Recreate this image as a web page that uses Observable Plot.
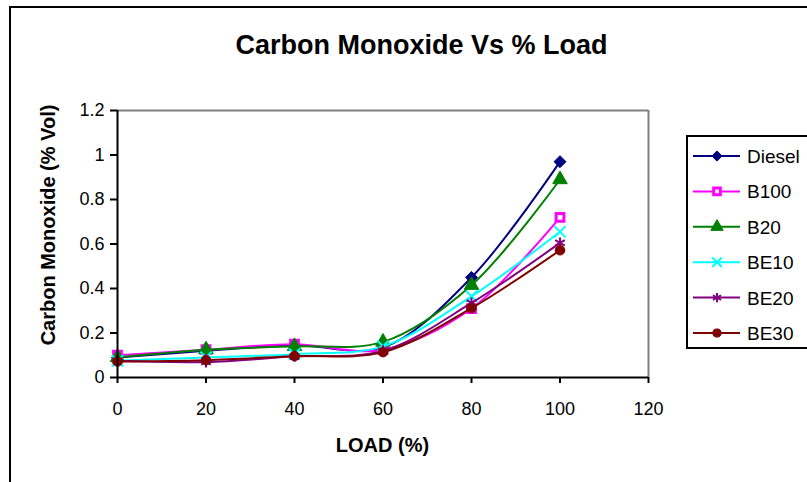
<!DOCTYPE html>
<html>
<head>
<meta charset="utf-8">
<script src="https://cdn.jsdelivr.net/npm/d3@7"></script>
<script src="https://cdn.jsdelivr.net/npm/@observablehq/plot@0.6"></script>
<style>
  html, body { margin: 0; padding: 0; background: #fff; }
  svg { display: block; }
</style>
</head>
<body>
<div id="chart"></div>
<script>
const loads = [0, 20, 40, 60, 80, 100];
const diesel = [0.09, 0.12, 0.145, 0.135, 0.45, 0.97];
const b100 = [0.10, 0.125, 0.15, 0.125, 0.31, 0.72];
const b20 = [0.09, 0.125, 0.14, 0.16, 0.415, 0.89];
const be10 = [0.075, 0.09, 0.105, 0.14, 0.365, 0.655];
const be20 = [0.075, 0.07, 0.095, 0.12, 0.335, 0.605];
const be30 = [0.072, 0.078, 0.096, 0.114, 0.312, 0.572];
const seriesNames = ["Diesel", "B100", "B20", "BE10", "BE20", "BE30"];
const seriesValues = [diesel, b100, b20, be10, be20, be30];
const colors = ["#000080", "#FF00FF", "#008000", "#00FFFF", "#800080", "#800000"];
const xTicks = [0, 20, 40, 60, 80, 100, 120];
const yTicks = [0, 0.2, 0.4, 0.6, 0.8, 1.0, 1.2];
const titleText = "Carbon Monoxide Vs % Load";
const xTitle = "LOAD (%)";
const yTitle = "Carbon Monoxide (% Vol)";

const FONT = "'Liberation Sans', Arial, Helvetica, sans-serif";

const markers = [
  {symbol: "diamond2", r: 5.4, fill: colors[0], stroke: colors[0], sw: 1},
  {symbol: "square", r: 4.4, fill: "white", stroke: colors[1], sw: 3},
  {symbol: "triangle", r: 5.4, fill: colors[2], stroke: colors[2], sw: 1},
  {symbol: "times", r: 5.2, fill: "none", stroke: colors[3], sw: 2},
  {symbol: "asterisk", r: 5.2, fill: "none", stroke: colors[4], sw: 2},
  {symbol: "circle", r: 4.8, fill: colors[5], stroke: colors[5], sw: 1}
];

const series = seriesNames.map((name, i) =>
  loads.map((x, j) => ({series: name, load: x, co: seriesValues[i][j]}))
);

const seriesMarks = series.flatMap((data, i) => [
  Plot.line(data, {x: "load", y: "co", stroke: colors[i], strokeWidth: 2, curve: "catmull-rom"}),
  Plot.dot(data, {x: "load", y: "co", symbol: () => markers[i].symbol, r: markers[i].r,
    fill: markers[i].fill, stroke: markers[i].stroke, strokeWidth: markers[i].sw})
]);

const svg = Plot.plot({
  width: 807,
  height: 482,
  marginLeft: 117,
  marginRight: 159,
  marginTop: 110,
  marginBottom: 105,
  style: {fontFamily: FONT, fontSize: "18px", color: "black", background: "white"},
  x: {domain: [0, 120]},
  y: {domain: [0, 1.2]},
  marks: [
    Plot.ruleY([1.2], {stroke: "#808080", strokeWidth: 2}),
    Plot.ruleX([120], {stroke: "#808080", strokeWidth: 2}),
    Plot.axisX({ticks: xTicks, tickSize: 6, tickPadding: 19, fontSize: 18, strokeWidth: 2, label: null}),
    Plot.axisY({ticks: yTicks, tickSize: 7, tickPadding: 6, fontSize: 18, strokeWidth: 2, label: null,
      tickFormat: d => String(+d.toFixed(1))}),
    ...seriesMarks,
    Plot.ruleX([0], {stroke: "black", strokeWidth: 2}),
    Plot.ruleY([0], {stroke: "black", strokeWidth: 2})
  ]
});

const s = d3.select(svg);

// outer chart border
s.append("rect").attr("x", 10).attr("y", 7).attr("width", 830).attr("height", 520)
  .attr("fill", "none").attr("stroke", "black").attr("stroke-width", 2);

// title
s.append("text").attr("x", 421.5).attr("y", 54).attr("text-anchor", "middle")
  .style("font-family", FONT).style("font-weight", "bold").style("font-size", "27px").attr("fill", "black")
  .text(titleText);

// axis titles
s.append("text").attr("x", 382.5).attr("y", 452).attr("text-anchor", "middle")
  .style("font-family", FONT).style("font-weight", "bold").style("font-size", "20px").attr("fill", "black")
  .text(xTitle);
s.append("g").attr("transform", "translate(55,225)")
  .append("text").attr("transform", "rotate(-90)").attr("x", 0).attr("y", 0)
  .attr("text-anchor", "middle")
  .style("font-family", FONT).style("font-weight", "bold").style("font-size", "20px").attr("fill", "black")
  .text(yTitle);

// legend
const lg = s.append("g");
lg.append("rect").attr("x", 687).attr("y", 136).attr("width", 140).attr("height", 212)
  .attr("fill", "white").attr("stroke", "black").attr("stroke-width", 2);
const symMap = {diamond2: d3.symbolDiamond2, square: d3.symbolSquare, triangle: d3.symbolTriangle,
  times: d3.symbolTimes, asterisk: d3.symbolAsterisk, circle: d3.symbolCircle};
seriesNames.forEach((name, i) => {
  const cy = 156 + i * 35.4;
  lg.append("line").attr("x1", 693).attr("x2", 740).attr("y1", cy).attr("y2", cy)
    .attr("stroke", colors[i]).attr("stroke-width", 2);
  const m = markers[i];
  const r = m.r * 0.85;
  lg.append("path").attr("d", d3.symbol().type(symMap[m.symbol]).size(r * r * Math.PI)())
    .attr("transform", `translate(717,${cy})`)
    .attr("fill", m.fill).attr("stroke", m.stroke).attr("stroke-width", m.sw);
  lg.append("text").attr("x", 747).attr("y", cy + 7).attr("text-anchor", "start")
    .style("font-family", FONT).style("font-size", "19px").attr("fill", "black").text(name);
});

document.getElementById("chart").appendChild(svg);
</script>
</body>
</html>
